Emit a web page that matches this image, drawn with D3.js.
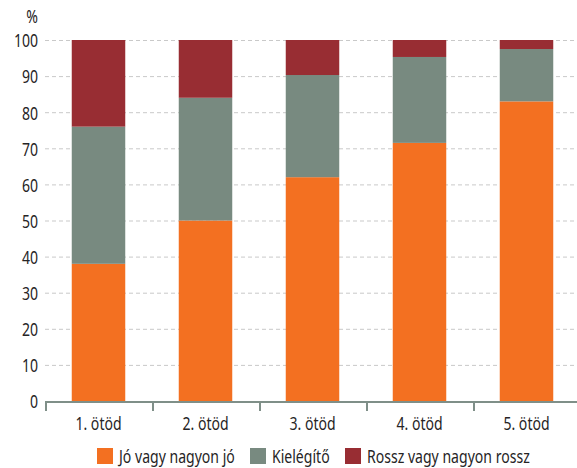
<!DOCTYPE html>
<html>
<head>
<meta charset="utf-8">
<script src="https://cdn.jsdelivr.net/npm/d3@7"></script>
<style>
  body { margin: 0; background: #fff; }
  svg text { font-family: "Noto Sans", "DejaVu Sans", sans-serif; fill: #262425; }
</style>
</head>
<body>
<svg id="chart" width="577" height="468"></svg>
<script>
// Quintiles and the share of each rating (%)
const categories = ["1. ötöd", "2. ötöd", "3. ötöd", "4. ötöd", "5. ötöd"];
const seriesNames = ["Jó vagy nagyon jó", "Kielégítő", "Rossz vagy nagyon rossz"];
const good = [38, 50, 62, 71.5, 83];
const fair = [38, 34, 28.3, 23.8, 14.5];
const bad = [24, 16, 9.7, 4.7, 2.5];
const yTicks = [0, 10, 20, 30, 40, 50, 60, 70, 80, 90, 100];
const colors = ["#f37021", "#788a80", "#982d33"];

// condensed look: squeeze glyphs horizontally
const SQ = 0.74;
const FS = "19px";

const svg = d3.select("#chart");
const margin = { left: 45, right: 0, top: 40, bottom: 67 };
const W = 577, H = 468;
const plotBottom = H - margin.bottom;

const rows = categories.map((c, i) => ({ cat: c, s0: good[i], s1: fair[i], s2: bad[i] }));
const layers = d3.stack().keys(["s0", "s1", "s2"])(rows);

const x = d3.scaleBand().domain(categories).range([margin.left, 580]).paddingInner(0.5).paddingOuter(0.25);
const y = d3.scaleLinear().domain([0, 100]).range([plotBottom, margin.top]);

// dashed horizontal gridlines
svg.append("g").selectAll("line").data(yTicks.filter(t => t > 0)).join("line")
  .attr("x1", margin.left).attr("x2", W)
  .attr("y1", d => y(d) + 0.5).attr("y2", d => y(d) + 0.5)
  .attr("stroke", "#c9c9c9").attr("stroke-width", 1).attr("stroke-dasharray", "4,3");

// stacked bars
svg.append("g").selectAll("g").data(layers).join("g")
  .attr("fill", (d, i) => colors[i])
  .selectAll("rect").data(d => d).join("rect")
  .attr("x", d => x(d.data.cat))
  .attr("width", x.bandwidth())
  .attr("y", d => y(d[1]))
  .attr("height", d => y(d[0]) - y(d[1]));

// y axis labels
const yAxis = d3.axisLeft(y).tickValues(yTicks).tickSize(0).tickPadding(0);
const gy = svg.append("g").attr("transform", `translate(${margin.left - 7},0)`).call(yAxis);
gy.select(".domain").remove();
gy.selectAll("text").attr("x", 0).attr("dy", "0.36em")
  .style("font-size", FS).attr("transform", `scale(${SQ},1)`);

svg.append("g").attr("transform", "translate(38,23)")
  .append("text").attr("text-anchor", "end").attr("transform", `scale(${SQ},1)`)
  .style("font-size", FS).text("%");

// x axis with ticks at band boundaries
const step = x.step();
const bounds = d3.range(categories.length + 1).map(i => margin.left + i * step);
svg.append("line").attr("x1", margin.left).attr("x2", W)
  .attr("y1", plotBottom + 1).attr("y2", plotBottom + 1)
  .attr("stroke", "#7f8f88").attr("stroke-width", 2);
svg.append("g").selectAll("line").data(bounds).join("line")
  .attr("x1", d => d + 1).attr("x2", d => d + 1)
  .attr("y1", plotBottom).attr("y2", plotBottom + 10)
  .attr("stroke", "#7f8f88").attr("stroke-width", 2);

const xAxis = d3.axisBottom(x).tickSize(0).tickPadding(0);
const gx = svg.append("g").attr("transform", `translate(0,${plotBottom})`).call(xAxis);
gx.select(".domain").remove();
gx.selectAll("text").attr("dy", null).attr("y", 0)
  .attr("transform", `translate(0,29) scale(${SQ},1)`).style("font-size", FS);

// legend
const legendX = [97, 250, 345];
const lg = svg.append("g").selectAll("g").data(seriesNames).join("g")
  .attr("transform", (d, i) => `translate(${legendX[i]},448)`);
lg.append("rect").attr("width", 16).attr("height", 16).attr("fill", (d, i) => colors[i]);
lg.append("g").attr("transform", "translate(22,15)")
  .append("text").attr("transform", `scale(${SQ},1)`).style("font-size", FS).text(d => d);
</script>
</body>
</html>
